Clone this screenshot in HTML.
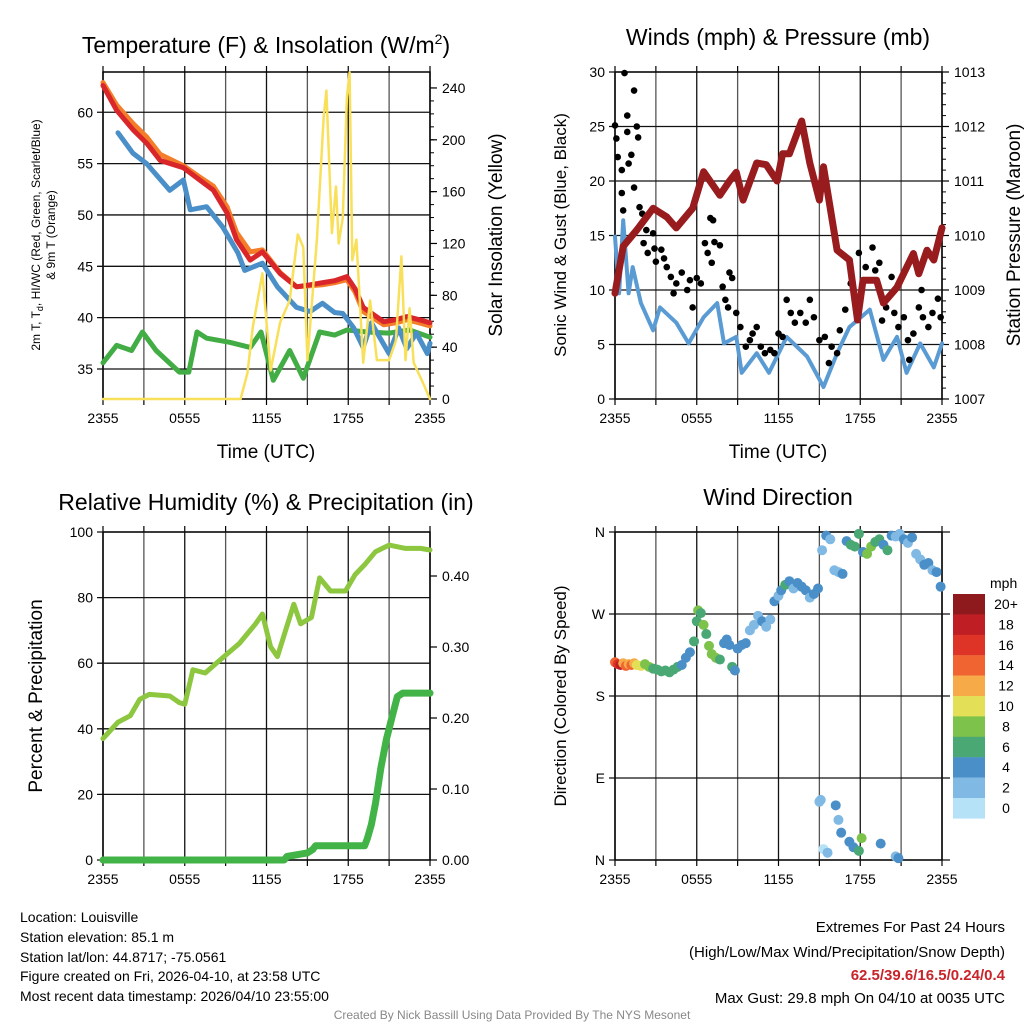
<!DOCTYPE html>
<html><head><meta charset="utf-8"><style>
html,body{margin:0;padding:0;background:#fff;}
svg{display:block;font-family:"Liberation Sans",sans-serif;}
</style></head><body>
<svg id="fig" width="1024" height="1024" viewBox="0 0 1024 1024" xmlns="http://www.w3.org/2000/svg">
<rect x="0" y="0" width="1024" height="1024" fill="#fff"/>
<text x="266" y="53" font-size="23" text-anchor="middle">Temperature (F) &amp; Insolation (W/m<tspan dy="-9" font-size="14">2</tspan><tspan dy="9">)</tspan></text>
<text x="778" y="45" font-size="23" text-anchor="middle">Winds (mph) &amp; Pressure (mb)</text>
<text x="266" y="510" font-size="23" text-anchor="middle">Relative Humidity (%) &amp; Precipitation (in)</text>
<text x="778" y="505" font-size="23" text-anchor="middle">Wind Direction</text>
<text x="266" y="458" font-size="19" text-anchor="middle">Time (UTC)</text>
<text x="778" y="458" font-size="19" text-anchor="middle">Time (UTC)</text>
<text transform="translate(40,235) rotate(-90)" font-size="12" text-anchor="middle">2m T, T<tspan font-size="9" dy="3">d</tspan><tspan dy="-3">, HI/WC (Red, Green, Scarlet/Blue)</tspan></text>
<text transform="translate(55,235) rotate(-90)" font-size="12" text-anchor="middle">&amp; 9m T (Orange)</text>
<text transform="translate(502,235) rotate(-90)" font-size="19" text-anchor="middle">Solar Insolation (Yellow)</text>
<text transform="translate(566,235) rotate(-90)" font-size="17" text-anchor="middle">Sonic Wind &amp; Gust (Blue, Black)</text>
<text transform="translate(1020,235) rotate(-90)" font-size="19" text-anchor="middle">Station Pressure (Maroon)</text>
<text transform="translate(42,696) rotate(-90)" font-size="19" text-anchor="middle">Percent &amp; Precipitation</text>
<text transform="translate(566,696) rotate(-90)" font-size="17" text-anchor="middle">Direction (Colored By Speed)</text>
<g font-size="14">
<text x="20" y="922">Location: Louisville</text>
<text x="20" y="942">Station elevation: 85.1 m</text>
<text x="20" y="962">Station lat/lon: 44.8717; -75.0561</text>
<text x="20" y="981">Figure created on Fri, 2026-04-10, at 23:58 UTC</text>
<text x="20" y="1001">Most recent data timestamp: 2026/04/10 23:55:00</text>
</g>
<g font-size="15" text-anchor="end">
<text x="1005" y="932">Extremes For Past 24 Hours</text>
<text x="1005" y="957">(High/Low/Max Wind/Precipitation/Snow Depth)</text>
<text x="1005" y="980" fill="#c8242b" font-weight="bold">62.5/39.6/16.5/0.24/0.4</text>
<text x="1005" y="1003">Max Gust: 29.8 mph On 04/10 at 0035 UTC</text>
</g>
<text x="512" y="1019" font-size="12" fill="#888" text-anchor="middle">Created By Nick Bassill Using Data Provided By The NYS Mesonet</text>
<g id="plots"></g>
</svg>
<script>
// ---- Panel 1: temperature & insolation ----
const tRed=[0,1,2.2,3.2,4.2,5.9,7.1,8.1,9.1,9.8,10.8,11.7,13,14.2,15.2,16.1,17,17.9,18.5,19.1,20.6,21.5,22.3,23.2,24];
const redT=[62.6,60.2,58.3,57,55.3,54.6,53.4,52.4,50.2,47.6,45.6,46.4,44.3,43,43.2,43.4,43.6,44,42.8,41,39.6,39.8,40.1,39.8,39.5];
const orangeT=[62.9,60.7,58.9,57.6,55.9,54.8,53.7,52.8,50.8,48.3,46.4,46.6,44.4,43,43.1,43.2,43.4,43.7,42.5,40.6,39.3,39.5,39.8,39.5,39.2];
const tBlue=[1.1,2.2,3.2,4.9,5.9,6.4,7.6,8.8,9.9,10.4,11.7,12.8,14.2,15.2,16.1,17,17.6,18.4,19.1,19.7,20.3,21,21.7,22.3,23,23.8,24];
const blueT=[58,56,55,52.4,53.4,50.5,50.8,48.8,46.3,44.6,45.3,43,41,40.6,41.4,40.5,40.4,39,37.1,39.5,38.1,36.5,39,37,38.5,36.5,37.5];
const tGreen=[0,1,2.1,2.9,3.9,5.6,6.3,6.9,7.6,9.3,10.8,11.6,12.5,13.7,14.7,15.9,17,17.9,19.4,21,22.5,24];
const greenT=[35.6,37.3,36.8,38.6,36.8,34.7,34.7,38.6,38,37.6,37.1,38.6,33.9,36.8,34.1,38.6,38.3,38.8,38.6,38.5,38.8,38.1];
const tSolar=[0,10.1,10.6,11,11.7,12.3,13,13.7,14.3,14.7,15,15.7,16.2,16.4,16.8,17.1,17.3,17.6,17.9,18.1,18.3,18.6,19.1,19.6,20.1,21,21.5,21.9,22.2,22.5,22.8,23.5,24];
const solarW=[0,0,20,56,97,22,59,76,127,117,30,123,218,238,128,164,120,140,233,252,107,123,28,76,30,30,45,110,30,70,28,12,0];
// ---- Panel 2: winds & pressure ----
const tPres=[0,0.6,1.6,2.8,3.8,4.5,5.7,6.5,7.7,8.4,8.9,9.4,10.4,11.1,11.9,12.3,12.8,13.7,14.3,15,15.3,16.3,17.2,17.8,18.2,19.2,19.7,20.7,21.9,22.3,22.9,23.4,24];
const presMb=[1008.94,1009.8,1010.1,1010.5,1010.34,1010.14,1010.5,1011.17,1010.74,1011,1011.16,1010.65,1011.33,1011.3,1011,1011.5,1011.5,1012.1,1011.33,1010.65,1011.26,1009.73,1009.55,1008.45,1009.18,1009.18,1008.76,1009.05,1009.67,1009.3,1009.73,1009.55,1010.14];
const tWind=[0,0.3,0.6,1,1.3,1.9,2.8,3.3,4.5,5.4,6.5,7.5,8,8.9,9.3,10.4,11.3,12.6,14.1,15.3,16.3,17.2,18.7,19.7,20.7,21.4,22.4,23.4,24];
const windMph=[14.9,9.7,16.4,9.7,12.1,8.8,6.3,8.4,7,5.1,7.5,8.8,5.1,5.7,2.4,4.2,2.4,5.7,3.9,1.1,4.2,6.6,8.2,3.6,5.7,2.4,5.1,2.9,5.1];
const tGust=[0,0.1,0.2,0.5,0.7,0.9,0.9,1,1.2,1.4,1.6,1.7,0.5,0.6,1.4,1.8,2,2.3,2.1,2.4,2.8,2.9,3,3.4,3.6,3.8,4.1,4.3,4.5,4.9,5.3,5.5,5.7,6,6.3,6.6,6.8,7,7.2,7.1,7.3,7.7,7.9,8.1,8.4,8.6,8.3,8.9,9.2,9.6,9.9,10.1,10.4,10.7,11,11.4,11.7,12,12.3,12.6,12.9,13.2,13.6,14,14.3,14.6,15,15.4,15.7,15.9,16.3,16.5,16.9,17.3,17.7,17.9,18.4,18.9,19.1,19.4,19.6,19.9,20.3,20.5,20.8,21.2,21.5,21.6,21.9,22.3,22.5,22.6,23,23.3,23.7,23.9];
const gustMph=[25.1,23.9,22.2,21,29.9,26,24.5,21.6,22.4,28.3,25,24,18.9,17.3,19.4,17.6,17,15.5,14.3,13.4,15.2,13.8,12.6,13.7,12.9,12.1,11.2,9.7,10.6,11.6,10,10.9,8.4,11.1,10.6,14.3,13.4,16.6,16.4,12.5,14.4,14.1,10.3,9.1,11.6,11.1,8.4,7.9,6.6,4.8,5.4,6,6.6,4.8,4.2,4.5,4.2,6,5.7,9.1,7.9,7,7.9,7,9.1,7.5,5.4,5.7,3.3,4.8,4.2,6.3,8.2,10.6,8.4,13.4,12.1,13.9,11.8,12.5,7.2,8.4,11.2,7.9,6.6,7.5,5.4,3.6,6,8.4,10,7.5,6.6,7.9,9.2,7.5];
// ---- Panel 3: RH & precip ----
const tRH=[0,1.1,2,2.7,3.4,4.9,5.6,6,6.6,7.5,8.6,10,11.2,11.7,12.3,12.8,13.4,14,14.5,15.3,15.9,16.7,17.8,18.5,19.2,20,21,22.2,23.3,24];
const rhPct=[37,42,44,49,50.5,50,48,47.5,58,57,61,66,72,75,65,62,70,78,72,74,86,82,82,87,90,94,96,95,95,94.5];
const tPrecip=[0,13.3,13.5,15,15.4,15.6,19.2,19.4,19.7,20,20.4,20.8,21.2,21.6,22,24];
const precipIn=[0,0,0.005,0.01,0.015,0.02,0.02,0.03,0.05,0.08,0.13,0.17,0.2,0.23,0.235,0.235];
// ---- Panel 4: wind direction ----
const tDir=[0,0.2,0.4,0.6,0.8,1,1.2,1.4,1.6,1.9,2.2,2.5,2.8,3.1,3.4,3.7,4,4.3,4.6,4.9,5.2,5.5,5.8,6,6.1,6.3,6.5,6.7,6.9,7.1,7.4,7.7,8,8.2,8.4,8.6,8.8,9,9.3,9.6,9.9,10.2,10.5,10.8,11.1,11.4,11.7,12,12.2,12.5,12.8,13.1,13.4,13.7,14,14.3,14.6,14.9,15.2,15.5,15.8,16.1,16.4,16.7,17,17.3,17.6,17.9,18.2,18.5,18.8,19.1,19.4,19.7,20,20.3,20.6,20.9,21.2,21.5,21.8,22.1,22.4,22.7,23,23.3,23.6,23.9,15,15.1,15.3,15.6,16.2,16.4,16.6,17.2,17.5,17.9,18.1,19.5,20.6,20.8];
const dirDeg=[217,215,214,216,213,215,214,216,214,213,215,212,210,209,207,208,206,209,212,214,222,228,240,262,274,271,258,248,235,226,222,220,238,242,236,212,208,232,236,238,252,258,268,262,256,264,284,290,296,302,306,298,304,300,296,288,292,298,340,356,352,318,316,314,350,346,344,358,338,336,344,349,352,346,340,356,355,358,352,348,354,336,330,324,326,318,316,300,64,66,12,8,60,44,30,20,14,10,24,18,4,2];
const dirSpd=[14,16,18,13,15,12,14,13,11,10,9,8,7,7,6,7,6,7,6,5,5,5,6,7,8,7,8,7,9,8,8,7,5,4,5,6,4,4,5,4,3,3,3,4,3,2,4,3,5,6,4,3,4,5,4,2,4,5,3,4,2,3,2,4,5,6,7,7,4,8,8,7,6,4,7,5,2,2,4,3,4,2,3,5,4,3,4,4,3,2,1,2,4,2,4,4,5,7,8,5,3,4];
const cbLabels=['20+','18','16','14','12','10','8','6','4','2','0'];
const cbColors=['#8f1a1e','#bf1e24','#de3428','#ef6430','#f6aa48','#e3e058','#7cc24b','#4aa874','#4a8fc8','#80b9e3','#b5e2f7'];

const NS='http://www.w3.org/2000/svg';
const root=document.getElementById('plots');
function el(tag,attrs,parent){const e=document.createElementNS(NS,tag);for(const k in attrs)e.setAttribute(k,attrs[k]);(parent||root).appendChild(e);return e;}
const xTickLabels=['2355','0555','1155','1755','2355'];
function frame(x0,x1,y0,y1,name){
  const g=el('g',{});
  
  
  for(let i=0;i<=8;i++){const x=x0+(x1-x0)*i/8;
    el('line',{x1:x,x2:x,y1:y0,y2:y1,stroke:(i%2?'#555':'#111'),'stroke-width':1.3},g);
    el('line',{x1:x,x2:x,y1:y1,y2:y1+6,stroke:'#000','stroke-width':1.2},g);
    el('line',{x1:x,x2:x,y1:y0,y2:y0-6,stroke:'#000','stroke-width':1.2},g);}
  xTickLabels.forEach((lab,i)=>{const t=el('text',{x:x0+(x1-x0)*i/4,y:y1+24,'font-size':14,'text-anchor':'middle'},g);t.textContent=lab;});
  el('rect',{x:x0,y:y0,width:x1-x0,height:y1-y0,fill:'none',stroke:'#000','stroke-width':1.5},g);
  return g;}
function hline(g,x0,x1,y,lab){
  el('line',{x1:x0-6,x2:x1,y1:y,y2:y,stroke:'#111','stroke-width':1.3},g);
  const t=el('text',{x:x0-10,y:y+5,'font-size':14,'text-anchor':'end'},g);t.textContent=lab;}
function rtick(g,x1,y,lab){el('line',{x1:x1,x2:x1+7,y1:y,y2:y,stroke:'#000','stroke-width':1.2},g);
  const t=el('text',{x:x1+12,y:y+5,'font-size':14},g);t.textContent=lab;}
function minor(g,x1,y0,y1,n){for(let i=1;i<n;i++){const y=y1-(y1-y0)*i/n;el('line',{x1:x1,x2:x1+4,y1:y,y2:y,stroke:'#000','stroke-width':1},g);}}
function line(xs,ys,fx,fy,color,w,name){
  const p=el('path',{d:xs.map((t,i)=>(i?'L':'M')+fx(t).toFixed(1)+','+fy(ys[i]).toFixed(1)).join(''),fill:'none',stroke:color,'stroke-width':w,'stroke-linejoin':'round','stroke-linecap':'round'});
  
  
  return p;}

// Panel 1
{const x0=103,x1=430,y0=72,y1=399;
 const fx=t=>x0+t*(x1-x0)/24, fy=v=>369-(v-35)*10.27, fs=w=>y1-w*1.296;
 const g=frame(x0,x1,y0,y1,'temp');
 [35,40,45,50,55,60].forEach(v=>hline(g,x0,x1,fy(v),String(v)));
 [0,40,80,120,160,200,240].forEach(v=>rtick(g,x1,fs(v),String(v)));
 minor(g,x1,fs(250),y1,25);
 line(tGreen,greenT,fx,fy,'#42ac45',5,'dewpoint-line');
 line(tBlue,blueT,fx,fy,'#4a8fc8',5,'windchill-line');
 line(tRed,orangeT,fx,fy,'#f47d2a',5,'temp-9m-line');
 line(tRed,redT,fx,fy,'#d8262a',5,'temp-2m-line');
 line(tSolar,solarW,fx,fs,'#f9e05a',2.5,'solar-line');}
// Panel 2
{const x0=615,x1=942,y0=72,y1=399;
 const fx=t=>x0+t*(x1-x0)/24, fy=v=>y1-v*(y1-y0)/30, fp=p=>y1-(p-1007)*(y1-y0)/6;
 const g=frame(x0,x1,y0,y1,'wind');
 [0,5,10,15,20,25,30].forEach(v=>hline(g,x0,x1,fy(v),String(v)));
 [1007,1008,1009,1010,1011,1012,1013].forEach(v=>rtick(g,x1,fp(v),String(v)));
 minor(g,x1,y0,y1,30);
 line(tWind,windMph,fx,fy,'#5a9bd3',4,'wind-speed-line');
 tGust.forEach((t,i)=>{const c=el('circle',{cx:fx(t),cy:fy(gustMph[i]),r:3.3,fill:'#000'});
   
   });
 line(tPres,presMb,fx,fp,'#981b1e',7,'pressure-line');}
// Panel 3
{const x0=103,x1=430,y0=532,y1=860;
 const fx=t=>x0+t*(x1-x0)/24, fy=v=>y1-v*(y1-y0)/100, fr=v=>y1-v*710;
 const g=frame(x0,x1,y0,y1,'rh');
 [0,20,40,60,80,100].forEach(v=>hline(g,x0,x1,fy(v),String(v)));
 [0,0.1,0.2,0.3,0.4].forEach(v=>rtick(g,x1,fr(v),v.toFixed(2)));
 line(tRH,rhPct,fx,fy,'#8dc63f',5,'rh-line');
 line(tPrecip,precipIn,fx,fr,'#41b347',7,'precip-line');}
// Panel 4
{const x0=615,x1=942,y0=532,y1=860;
 const fx=t=>x0+t*(x1-x0)/24, fy=d=>y1-d*(y1-y0)/360;
 const g=frame(x0,x1,y0,y1,'direction');
 [['N',0],['E',90],['S',180],['W',270],['N',360]].forEach(a=>hline(g,x0,x1+8,fy(a[1]),a[0]));
 tDir.forEach((t,i)=>{const b=Math.min(10,Math.floor(dirSpd[i]/2));
   const c=el('circle',{cx:fx(t),cy:fy(dirDeg[i]),r:5,fill:cbColors[10-b]});
   
   });
 const cb=el('g',{});
 
 
 const mt=el('text',{x:990,y:588,'font-size':14},cb);mt.textContent='mph';
 cbLabels.forEach((lab,i)=>{const y=594+i*20.4;
   el('rect',{x:953,y:y,width:32,height:20.6,fill:cbColors[i]},cb);
   const t=el('text',{x:1006,y:y+15,'font-size':14,'text-anchor':'middle'},cb);t.textContent=lab;});}
</script>
</body></html>
